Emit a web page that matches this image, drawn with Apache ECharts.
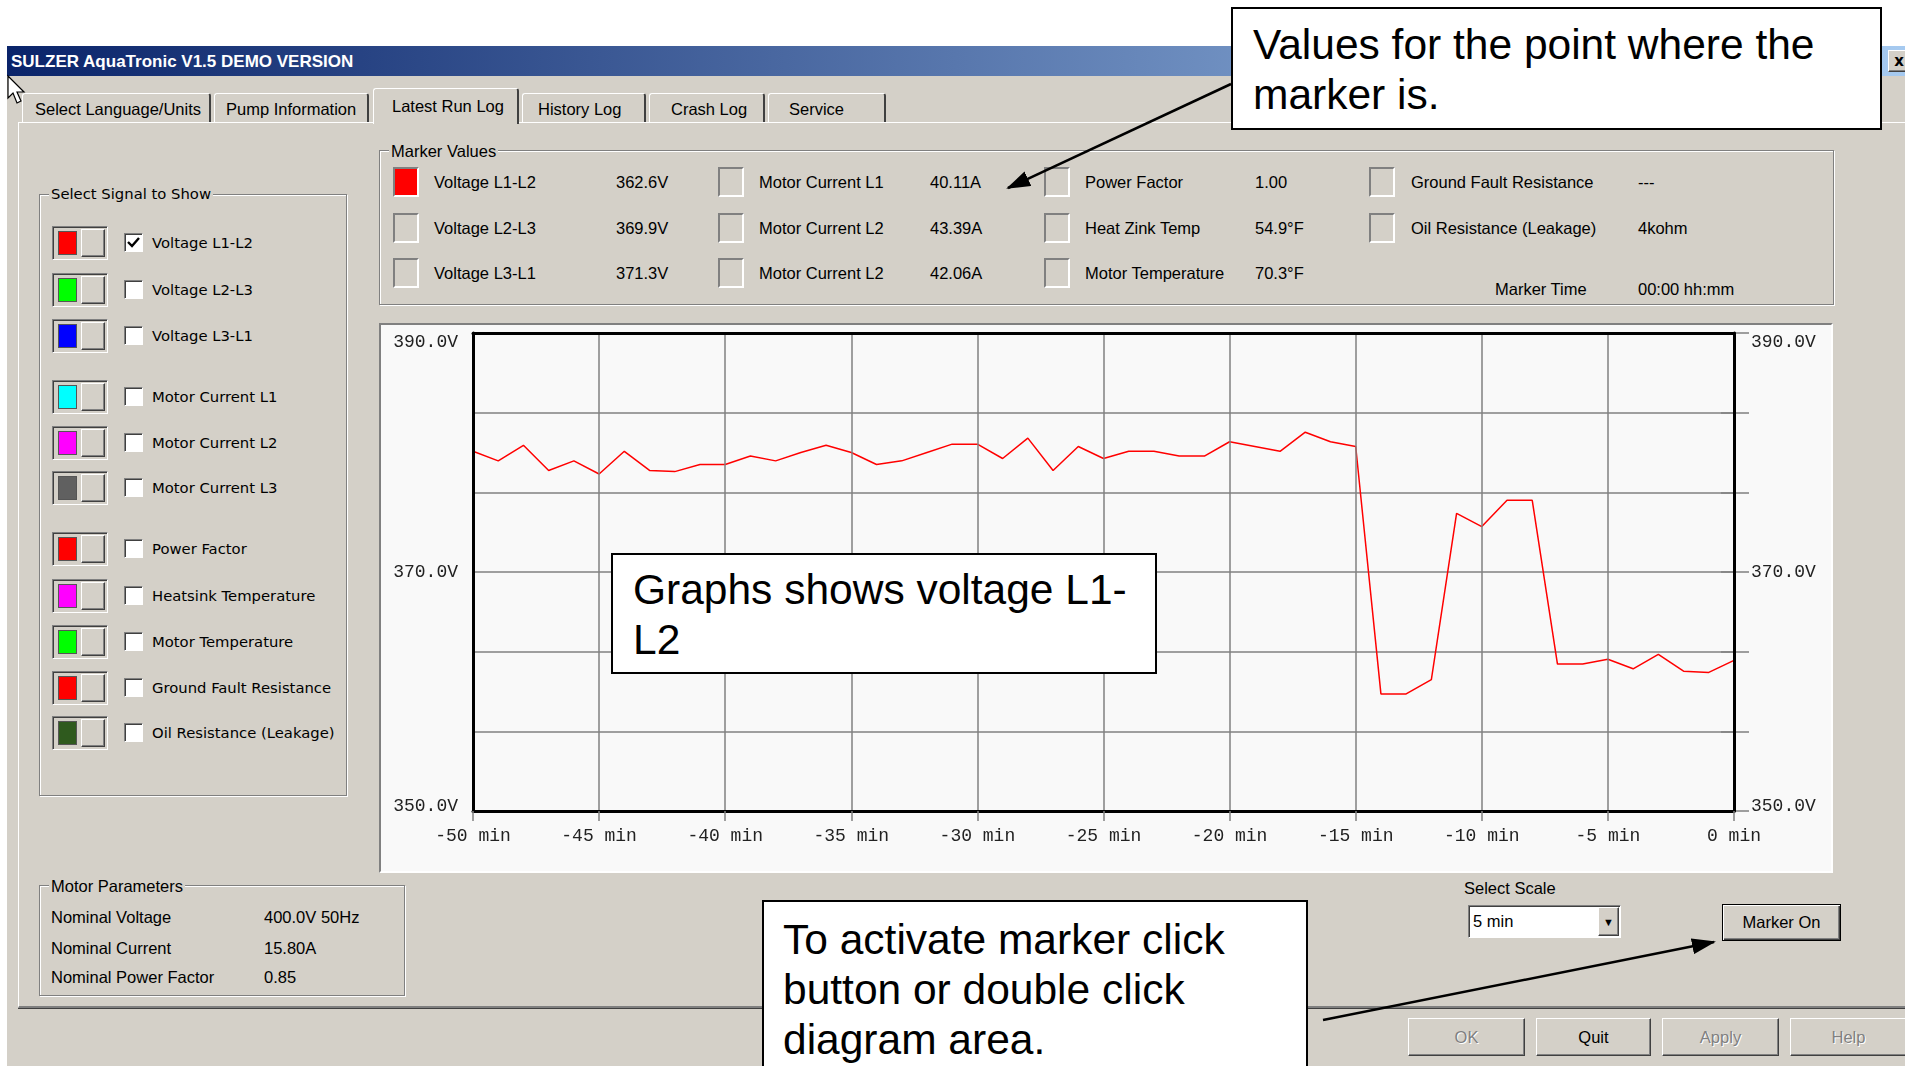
<!DOCTYPE html>
<html><head><meta charset="utf-8">
<script src="https://cdn.jsdelivr.net/npm/echarts@6/dist/echarts.min.js"></script>
<style>
html,body{margin:0;padding:0;}
body{width:1905px;height:1066px;overflow:hidden;background:#fff;position:relative;font-family:"Liberation Sans",Arial,sans-serif;color:#000;}
.abs{position:absolute;box-sizing:border-box;}
.t{font-family:"Liberation Sans",Arial,sans-serif;font-size:16.5px;line-height:22px;white-space:pre;}
.v{font-family:"DejaVu Sans",Verdana,sans-serif;font-size:14.8px;line-height:22px;white-space:pre;}
.grp{border:1px solid #808080;box-shadow:inset 1px 1px 0 #fff,1px 1px 0 #fff;}
.gt{background:#d4d0c8;padding:0 2px;}
.sunk{border-style:solid;border-width:1px;border-color:#808080 #fff #fff #808080;box-shadow:inset 1px 1px 0 #404040;}
.raised{border-style:solid;border-width:1px;border-color:#fff #404040 #404040 #fff;box-shadow:inset -1px -1px 0 #808080;background:#d4d0c8;}
.callout{background:#fff;border:2px solid #000;font-family:"Liberation Sans",Arial,sans-serif;font-size:42.5px;line-height:50px;color:#000;white-space:pre;z-index:20;}
.btn{display:flex;align-items:center;justify-content:center;}
.dis{color:#808080;text-shadow:1px 1px 0 #fff;}
</style>
</head>
<body>
<div class="abs" style="left:7px;top:46px;width:1898px;height:1020px;background:#d4d0c8;"></div>
<div class="abs" style="left:7px;top:46px;width:1898px;height:30px;background:linear-gradient(to right,#0a246a 0%,#a6caf0 100%);"></div>
<div class="abs" style="left:11px;top:49px;font-family:'Liberation Sans',Arial,sans-serif;font-weight:bold;font-size:17px;line-height:26px;color:#fff;white-space:pre;">SULZER AquaTronic V1.5 DEMO VERSION</div>
<div class="abs raised btn" style="left:1888px;top:50px;width:22px;height:22px;font:bold 15px 'DejaVu Sans',sans-serif;">x</div>
<!-- tab page panel -->
<div class="abs" style="left:18px;top:122px;width:1900px;height:886px;border-left:1px solid #fff;border-top:1px solid #fff;border-bottom:2px solid #808080;box-shadow:0 1px 0 #404040;"></div>
<div id="chrome"></div>
<!-- chart panel -->
<div class="abs" style="left:379px;top:323px;width:1454px;height:550px;background:#f9f9f9;border-style:solid;border-width:2px;border-color:#808080 #fff #fff #808080;"></div>
<div id="chart" class="abs" style="left:0;top:0;width:1905px;height:1066px;z-index:10;"></div>
<!-- callouts -->
<div class="abs callout" style="left:1231px;top:7px;width:651px;height:123px;padding:11px 0 0 20px;">Values for the point where the
marker is.</div>
<div class="abs callout" style="left:611px;top:553px;width:546px;height:121px;padding:10px 0 0 20px;">Graphs shows voltage L1-
L2</div>
<div class="abs callout" style="left:762px;top:900px;width:546px;height:180px;padding:13px 0 0 19px;">To activate marker click
button or double click
diagram area.</div>
<svg class="abs" style="left:0;top:0;z-index:30;pointer-events:none;" width="1905" height="1066">
<defs><marker id="ah" markerUnits="userSpaceOnUse" markerWidth="24" markerHeight="16" refX="22" refY="8" orient="auto"><path d="M0,0 L24,8 L0,16 z" fill="#000"/></marker></defs>
<line x1="1231" y1="84" x2="1008" y2="188" stroke="#000" stroke-width="2.5" marker-end="url(#ah)"/>
<line x1="1323" y1="1020" x2="1714" y2="942" stroke="#000" stroke-width="2.5" marker-end="url(#ah)"/>
<polygon points="8,76 8,98 13,93 17,103 21,101 17,92 24,92" fill="#fff" stroke="#000" stroke-width="1.2"/>
</svg>
<script>
// ---------- chart data ----------
const minutes = [-50,-49,-48,-47,-46,-45,-44,-43,-42,-41,-40,-39,-38,-37,-36,-35,-34,-33,-32,-31,-30,-29,-28,-27,-26,-25,-24,-23,-22,-21,-20,-19,-18,-17,-16,-15,-14,-13,-12,-11,-10,-9,-8,-7,-6,-5,-4,-3,-2,-1,0];
const voltageL1L2 = [380.1,379.3,380.6,378.5,379.3,378.2,380.1,378.5,378.4,379.0,379.0,379.7,379.3,380.0,380.6,380.0,379.0,379.3,380.0,380.7,380.7,379.5,381.2,378.5,380.5,379.5,380.1,380.1,379.7,379.7,380.9,380.5,380.1,381.7,380.9,380.5,359.8,359.8,361.0,374.9,373.8,376.0,376.0,362.3,362.3,362.7,361.9,363.1,361.7,361.6,362.6];
const yLabelTicks = [350, 370, 390];
const yUnit = 'V';
const xUnit = ' min';

// ---------- UI texts ----------
const tabs = ['Select Language/Units','Pump Information','Latest Run Log','History Log','Crash Log','Service'];
const signalNames = ['Voltage L1-L2','Voltage L2-L3','Voltage L3-L1','Motor Current L1','Motor Current L2','Motor Current L3','Power Factor','Heatsink Temperature','Motor Temperature','Ground Fault Resistance','Oil Resistance (Leakage)'];
const signalColors = ['#ff0000','#00ff00','#0000ff','#00ffff','#ff00ff','#606060','#ff0000','#ff00ff','#00ff00','#ff0000','#2f5a1e'];
const markerCols = [
  [['Voltage L1-L2','362.6V'],['Voltage L2-L3','369.9V'],['Voltage L3-L1','371.3V']],
  [['Motor Current L1','40.11A'],['Motor Current L2','43.39A'],['Motor Current L2','42.06A']],
  [['Power Factor','1.00'],['Heat Zink Temp','54.9°F'],['Motor Temperature','70.3°F']],
  [['Ground Fault Resistance','---'],['Oil Resistance (Leakage)','4kohm']]
];
const motorParams = [['Nominal Voltage','400.0V 50Hz'],['Nominal Current','15.80A'],['Nominal Power Factor','0.85']];

// ---------- chrome layout ----------
const root = document.getElementById('chrome');
function el(cls, style, text){ const d=document.createElement('div'); d.className='abs '+cls; d.setAttribute('style',style); if(text!==undefined) d.textContent=text; root.appendChild(d); return d; }
function txt(x, yc, s, cls, extra){ return el(cls, 'left:'+x+'px;top:'+(yc-11)+'px;'+(extra||''), s); }

const tabL = [22,214,373,522,649,768], tabR = [211,369,519,646,765,886], tabTx = [35,226,392,538,671,789];
tabs.forEach((s,i)=>{
  const sel = i===2;
  el('', 'left:'+tabL[i]+'px;top:'+(sel?88:93)+'px;width:'+(tabR[i]-tabL[i])+'px;height:'+(sel?36:29)+'px;background:#d4d0c8;border-left:1px solid #fff;border-top:1px solid #fff;border-right:2px solid #404040;border-radius:3px 3px 0 0;'+(sel?'z-index:2;':''));
  txt(tabTx[i], sel?106:109, s, 't', sel?'z-index:3;':'');
});

// Select signal group
el('grp','left:39px;top:194px;width:308px;height:602px;');
txt(49, 194, 'Select Signal to Show', 'v gt');
const rowY = [243,290,336,397,443,488,549,596,642,688,733];
signalNames.forEach((s,i)=>{
  const y=rowY[i];
  el('sunk','left:52px;top:'+(y-17)+'px;width:56px;height:34px;');
  el('','left:58px;top:'+(y-12)+'px;width:19px;height:24px;background:'+signalColors[i]+';border:1px solid #555;');
  el('raised','left:81px;top:'+(y-14)+'px;width:24px;height:28px;');
  const cb = el('sunk','left:124px;top:'+(y-10)+'px;width:19px;height:19px;background:#fff;');
  if(i===0) cb.innerHTML='<svg width="17" height="17" style="position:absolute;left:0;top:0"><polyline points="3,8 7,12 14,4" fill="none" stroke="#000" stroke-width="2.4"/></svg>';
  txt(152, y, s, 'v');
});

// Marker values group
el('grp','left:379px;top:150px;width:1455px;height:155px;');
txt(389, 151, 'Marker Values', 't gt');
const mRowY=[182,228,273], mBoxX=[393,718,1044,1369], mLblX=[434,759,1085,1411], mValX=[616,930,1255,1638];
markerCols.forEach((col,c)=>{
  col.forEach((pair,r)=>{
    const y=mRowY[r];
    el('','left:'+mBoxX[c]+'px;top:'+(y-15)+'px;width:26px;height:30px;border-style:solid;border-width:2px;border-color:#808080 #fff #fff #808080;'+(c===0&&r===0?'background:#ff0000;':''));
    txt(mLblX[c], y, pair[0], 't');
    txt(mValX[c], y, pair[1], 't');
  });
});
txt(1495, 289, 'Marker Time', 't');
txt(1638, 289, '00:00 hh:mm', 't');

// Motor parameters
el('grp','left:39px;top:885px;width:366px;height:111px;');
txt(49, 886, 'Motor Parameters', 't gt');
[917,948,977].forEach((y,i)=>{ txt(51,y,motorParams[i][0],'t'); txt(264,y,motorParams[i][1],'t'); });

// scale selection
txt(1464, 888, 'Select Scale', 't');
el('sunk','left:1468px;top:905px;width:153px;height:33px;background:#fff;');
txt(1473, 921, '5 min', 't');
el('raised btn','left:1598px;top:907px;width:21px;height:29px;font-size:11px;', '\u25BC');
el('btn','left:1722px;top:904px;width:119px;height:37px;border:1px solid #000;background:#d4d0c8;box-shadow:inset 1px 1px 0 #fff,inset -1px -1px 0 #404040,inset -2px -2px 0 #808080;font-size:16.5px;', 'Marker On');
[[1408,1525,'OK',true],[1536,1651,'Quit',false],[1662,1779,'Apply',true],[1790,1907,'Help',true]].forEach(b=>{
  el('raised btn'+(b[3]?' dis':''),'left:'+b[0]+'px;top:1018px;width:'+(b[1]-b[0])+'px;height:38px;font-size:16.5px;', b[2]);
});

// ---------- chart ----------
const monoFont = {fontFamily:'Liberation Mono, monospace', fontSize:18, color:'#222'};
function fmtY(v){
  if(yLabelTicks.indexOf(v)<0) return '';
  const s=v.toFixed(1)+yUnit;
  if(v===Math.max.apply(null,yLabelTicks)) return '{t|'+s+'}';
  if(v===Math.min.apply(null,yLabelTicks)) return '{b|'+s+'}';
  return '{m|'+s+'}';
}
const yRich = {
  t:Object.assign({padding:[18,0,0,0]},monoFont),
  m:Object.assign({},monoFont),
  b:Object.assign({padding:[0,0,10,0]},monoFont)
};
const blackLine = {show:true,onZero:false,lineStyle:{color:'#000',width:3}};
const grayLine = {color:'#808080',width:1.5};
const chart = echarts.init(document.getElementById('chart'), null, {renderer:'canvas'});
chart.setOption({
  animation:false,
  backgroundColor:'transparent',
  grid:{left:473, top:333, width:1261, height:478, containLabel:false},
  xAxis:[
    {type:'value', min:-50, max:0, interval:5, position:'bottom', z:5,
     axisLine:blackLine,
     axisTick:{show:true, inside:false, length:10, lineStyle:grayLine},
     splitLine:{show:true, lineStyle:grayLine},
     axisLabel:Object.assign({formatter:v=>v+xUnit, margin:16}, monoFont)},
    {type:'value', min:-50, max:0, interval:5, position:'top', z:5,
     axisLine:blackLine, axisTick:{show:false}, axisLabel:{show:false}, splitLine:{show:false}}
  ],
  yAxis:[
    {type:'value', min:350, max:390, interval:10, position:'left', z:5,
     axisLine:blackLine, axisTick:{show:false}, splitLine:{show:false},
     axisLabel:{formatter:fmtY, margin:15, rich:yRich}},
    {type:'value', min:350, max:390, interval:10, position:'right', z:5,
     axisLine:blackLine, axisTick:{show:false}, splitLine:{show:false},
     axisLabel:{formatter:fmtY, margin:17, rich:yRich}},
    {type:'value', min:0, max:6, interval:1, position:'left', z:1,
     axisLine:{show:false}, axisTick:{show:true, inside:false, length:13, lineStyle:grayLine},
     axisLabel:{show:false}, splitLine:{show:true, lineStyle:grayLine}},
    {type:'value', min:0, max:6, interval:1, position:'right', z:1,
     axisLine:{show:false}, axisTick:{show:true, inside:false, length:15, lineStyle:grayLine},
     axisLabel:{show:false}, splitLine:{show:false}}
  ],
  series:[{
    name:'Voltage L1-L2', type:'line', xAxisIndex:0, yAxisIndex:0, z:4,
    data:minutes.map((m,i)=>[m, voltageL1L2[i]]),
    symbol:'none', showSymbol:false,
    lineStyle:{color:'#ff0000', width:1.5}
  }]
});
</script>
</body></html>
